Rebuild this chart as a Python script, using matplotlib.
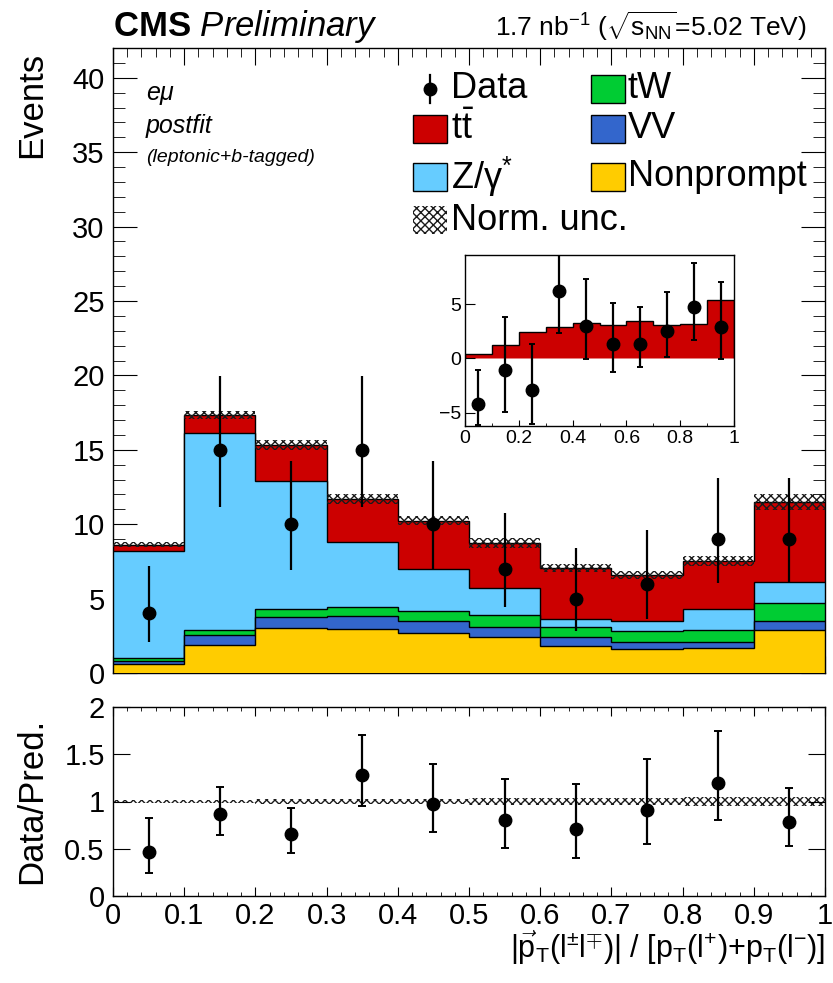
import numpy as np
import matplotlib
matplotlib.use("Agg")
import matplotlib.pyplot as plt
from matplotlib.patches import Rectangle
from matplotlib.lines import Line2D
from matplotlib.ticker import MultipleLocator, FuncFormatter

plt.rcParams['font.family'] = ['Liberation Sans', 'DejaVu Sans']
plt.rcParams['mathtext.fontset'] = 'custom'
plt.rcParams['mathtext.rm'] = 'Liberation Sans'
plt.rcParams['mathtext.it'] = 'Liberation Sans:italic'
plt.rcParams['mathtext.bf'] = 'Liberation Sans:bold'
plt.rcParams['hatch.linewidth'] = 1.0
plt.rcParams['axes.linewidth'] = 1.0

# bins of |pT(ll)| / [pT(l+)+pT(l-)]
edges = [0.0, 0.1, 0.2, 0.3, 0.4, 0.5, 0.6, 0.7, 0.8, 0.9, 1.0]
centers = [0.05, 0.15, 0.25, 0.35, 0.45, 0.55, 0.65, 0.75, 0.85, 0.95]

# postfit yields per process (stack order bottom -> top)
nonprompt = [0.58, 1.88, 3.05, 2.96, 2.67, 2.44, 1.84, 1.59, 1.70, 2.89]
vv        = [0.22, 0.67, 0.74, 0.87, 0.80, 0.67, 0.56, 0.47, 0.41, 0.63]
tw        = [0.19, 0.34, 0.53, 0.58, 0.72, 0.79, 0.71, 0.76, 0.78, 1.16]
zgamma    = [7.21, 13.21, 8.61, 4.39, 2.80, 1.79, 0.52, 0.70, 1.43, 1.41]
ttbar     = [0.42, 1.22, 2.39, 2.90, 3.24, 3.03, 3.42, 3.09, 3.21, 5.41]
norm_unc  = [0.020, 0.016, 0.022, 0.027, 0.030, 0.038, 0.042, 0.042, 0.044, 0.047]

data    = [4, 15, 10, 15, 10, 7, 5, 6, 9, 9]
err_lo  = [1.91, 3.83, 3.08, 3.83, 3.08, 2.58, 2.16, 2.38, 2.94, 2.94]
err_hi  = [3.16, 4.95, 4.27, 4.95, 4.27, 3.77, 3.38, 3.58, 4.11, 4.11]

procs = [("Nonprompt", nonprompt, "#ffcc00"),
         ("VV", vv, "#3366cc"),
         ("tW", tw, "#00cc33"),
         ("Z/γ*", zgamma, "#66ccff"),
         ("tt", ttbar, "#cc0000")]

W, H = 833, 983
def fx(px): return px / W
def fy(py): return 1 - py / H

fig = plt.figure(figsize=(W / 100, H / 100), dpi=100)
ax = fig.add_axes([fx(113), fy(673), fx(825) - fx(113), fy(48) - fy(673)])
rax = fig.add_axes([fx(113), fy(896), fx(825) - fx(113), fy(707) - fy(896)])
iax = fig.add_axes([fx(465), fy(426), fx(734) - fx(465), fy(255) - fy(426)])

# ---- main stacked plot
cums = np.cumsum([np.array(p[1]) for p in procs], axis=0)
for i in range(len(procs) - 1, -1, -1):
    ax.stairs(cums[i], edges, baseline=0, fill=True, facecolor=procs[i][2],
              edgecolor='black', linewidth=1.0, zorder=2 + (len(procs) - i))
total = cums[-1]
rel = np.array(norm_unc)
ax.stairs(total * (1 + rel), edges, baseline=total * (1 - rel), fill=True,
          facecolor='none', edgecolor='#1a1a1a', hatch='xxxx', linewidth=0, zorder=9)
ax.errorbar(centers, data, yerr=[err_lo, err_hi], fmt='o', color='black',
            markersize=9, elinewidth=1.6, capsize=0, zorder=10)

ax.set_xlim(0, 1)
ax.set_ylim(0, 42)
ax.xaxis.set_major_locator(MultipleLocator(0.1))
ax.xaxis.set_minor_locator(MultipleLocator(0.02))
ax.yaxis.set_major_locator(MultipleLocator(5))
ax.yaxis.set_minor_locator(MultipleLocator(1))
ax.tick_params(axis='both', which='both', direction='in', top=True, right=True)
ax.tick_params(axis='y', which='major', length=17, labelsize=21, pad=6)
ax.tick_params(axis='y', which='minor', length=8.5)
ax.tick_params(axis='x', which='major', length=12, labelbottom=False)
ax.tick_params(axis='x', which='minor', length=6.5)
fig.text(fx(32), fy(52), "Events", rotation=90, ha='center', va='top', fontsize=25)

# header
fig.text(fx(113), fy(36), r"$\mathbf{CMS}$ $\mathit{Preliminary}$", fontsize=25, ha='left', va='baseline')
fig.text(fx(807), fy(36), r"1.7 nb$^{-1}$ ($\sqrt{\mathrm{s}_{\mathrm{NN}}}$=5.02 TeV)",
         fontsize=19, ha='right', va='baseline')

# category labels
fig.text(fx(146), fy(95), r"$\mathit{e\mu}$", fontsize=18, ha='left', va='center')
fig.text(fx(146), fy(126), "postfit", style='italic', fontsize=18, ha='left', va='center')
fig.text(fx(146), fy(157), "(leptonic+b-tagged)", style='italic', fontsize=14, ha='left', va='center')

# legend (drawn by hand, ROOT style)
def box(x, y, color, hatch=None):
    if hatch:
        r = Rectangle((fx(x), fy(y + 14)), fx(34), 28 / H, transform=fig.transFigure,
                      facecolor='white', edgecolor='#1a1a1a', hatch=hatch, linewidth=0)
    else:
        r = Rectangle((fx(x), fy(y + 14)), fx(34), 28 / H, transform=fig.transFigure,
                      facecolor=color, edgecolor='black', linewidth=1.0)
    fig.add_artist(r)

leg_rows = [89, 129, 177, 220]
fig.add_artist(Line2D([fx(430), fx(430)], [fy(leg_rows[0] - 14), fy(leg_rows[0] + 14)],
                      color='black', lw=1.6, transform=fig.transFigure))
fig.add_artist(Line2D([fx(430)], [fy(leg_rows[0])], marker='o', markersize=9,
                      color='black', transform=fig.transFigure))
fig.text(fx(451), fy(leg_rows[0]), "Data", fontsize=26, va='center')
box(413, leg_rows[1], procs[4][2])
fig.text(fx(451), fy(leg_rows[1]), r"t$\bar{\mathrm{t}}$", fontsize=26, va='center')
box(413, leg_rows[2], procs[3][2])
fig.text(fx(451), fy(leg_rows[2]), r"Z/$\mathrm{\gamma}^{*}$", fontsize=26, va='center')
box(413, leg_rows[3], None, hatch='xxxx')
fig.text(fx(451), fy(leg_rows[3]), "Norm. unc.", fontsize=26, va='center')
box(591, leg_rows[0], procs[2][2])
fig.text(fx(628), fy(leg_rows[0]), "tW", fontsize=26, va='center')
box(591, leg_rows[1], procs[1][2])
fig.text(fx(628), fy(leg_rows[1]), "VV", fontsize=26, va='center')
box(591, leg_rows[2], procs[0][2])
fig.text(fx(628), fy(leg_rows[2]), "Nonprompt", fontsize=26, va='center')

# ---- inset: data minus non-ttbar backgrounds
bkg = total - np.array(ttbar)
idata = np.array(data) - bkg
iax.stairs(ttbar, edges, baseline=0, fill=True, facecolor="#cc0000",
           edgecolor='black', linewidth=1.0)
iax.errorbar(centers, idata, yerr=[err_lo, err_hi], fmt='o', color='black',
             markersize=9, elinewidth=1.6, capsize=2.5, capthick=1.4, zorder=5)
iax.set_xlim(0, 1)
iax.set_ylim(-6.2, 9.5)
iax.xaxis.set_major_locator(MultipleLocator(0.2))
iax.xaxis.set_minor_locator(MultipleLocator(0.1))
iax.yaxis.set_major_locator(MultipleLocator(5))
iax.tick_params(axis='both', which='both', direction='in', labelsize=14, pad=3)
iax.tick_params(axis='x', which='major', length=4)
iax.tick_params(axis='x', which='minor', length=2)
iax.tick_params(axis='y', which='major', length=7)
iax.xaxis.set_major_formatter(FuncFormatter(lambda v, p: f"{v:g}"))

# ---- ratio panel
ratio = np.array(data) / total
r_lo = np.array(err_lo) / total
r_hi = np.array(err_hi) / total
rax.stairs(1 + rel, edges, baseline=1 - rel, fill=True, facecolor='none',
           edgecolor='#1a1a1a', hatch='xxxx', linewidth=0)
rax.errorbar(centers, ratio, yerr=[r_lo, r_hi], fmt='o', color='black',
             markersize=9, elinewidth=1.6, capsize=3, capthick=1.4, zorder=5)
rax.set_xlim(0, 1)
rax.set_ylim(0, 2)
rax.xaxis.set_major_locator(MultipleLocator(0.1))
rax.xaxis.set_minor_locator(MultipleLocator(0.02))
rax.yaxis.set_major_locator(MultipleLocator(0.5))
rax.tick_params(axis='both', which='both', direction='in', top=True, right=True)
rax.tick_params(axis='x', which='major', length=6.5, labelsize=21, pad=4)
rax.tick_params(axis='x', which='minor', length=3)
rax.tick_params(axis='y', which='major', length=12, labelsize=21, pad=6)
rax.xaxis.set_major_formatter(FuncFormatter(lambda v, p: f"{v:g}"))
rax.yaxis.set_major_formatter(FuncFormatter(lambda v, p: f"{v:g}"))
fig.text(fx(32), fy(801), "Data/Pred.", rotation=90, ha='center', va='center', fontsize=25)
fig.text(fx(825), fy(958),
         r"|$\vec{\mathrm{p}}_{\mathrm{T}}$(l$^{\pm}$l$^{\mp}$)| / [p$_{\mathrm{T}}$(l$^{+}$)+p$_{\mathrm{T}}$(l$^{-}$)]",
         ha='right', va='baseline', fontsize=22)

fig.savefig("out.png", dpi=100)
